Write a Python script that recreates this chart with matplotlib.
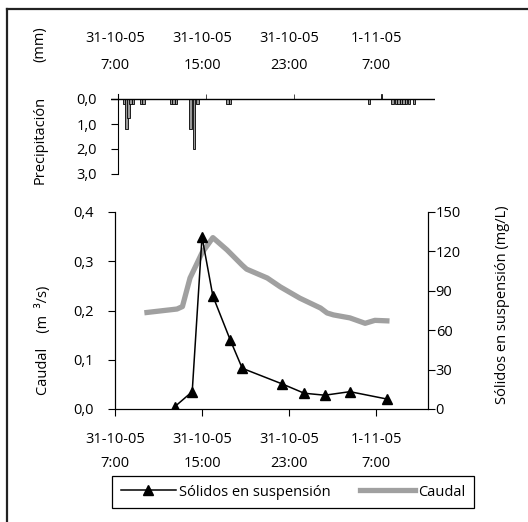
import matplotlib
matplotlib.use("Agg")
import matplotlib.pyplot as plt
from matplotlib.lines import Line2D

plt.rcParams["font.family"] = ["Open Sans", "DejaVu Sans"]
plt.rcParams["font.size"] = 10.5

W, H = 528, 522

# time axis: hours since 31-10-05 00:00
tick_hours = [7, 15, 23, 31]
tick_labels = ["31-10-05\n7:00", "31-10-05\n15:00", "31-10-05\n23:00", "1-11-05\n7:00"]

# precipitation (mm), drawn hanging down from 0
rain_hours = [7.83, 8.06, 8.24, 8.43, 8.66, 9.39, 9.62, 12.15, 12.38, 12.61,
              13.94, 14.26, 14.59, 17.34, 17.57, 30.36,
              32.52, 32.84, 33.07, 33.30, 33.52, 33.75, 34.03, 34.49]
rain_mm = [0.2, 1.2, 0.75, 0.2, 0.2, 0.2, 0.2, 0.2, 0.2, 0.2,
           1.2, 2.0, 0.2, 0.2, 0.2, 0.2,
           0.2, 0.2, 0.2, 0.2, 0.2, 0.2, 0.2, 0.2]
trace_hours = [15.37, 23.46, 31.52]
trace_mm = [-0.2, -0.2, -0.2]

# discharge (m3/s)
q_hours = [9.94, 12.7, 13.2, 13.9, 15.0, 16.0, 17.3, 18.7, 19.1, 21.0, 22.2,
           24.0, 25.9, 26.5, 27.1, 28.6, 30.0, 30.9, 32.0]
q_vals = [0.196, 0.203, 0.208, 0.266, 0.317, 0.348, 0.323, 0.292, 0.284, 0.266,
          0.248, 0.225, 0.205, 0.195, 0.191, 0.185, 0.174, 0.180, 0.179]

# suspended solids (mg/L)
ss_hours = [12.5, 14.1, 15.0, 16.0, 17.6, 18.7, 22.4, 24.4, 26.3, 28.6, 32.0]
ss_vals = [1.8, 13.2, 131, 86, 52.5, 31, 19, 12, 10.5, 13.2, 7.6]


def fx(px):
    return px / W


def fy(py):
    return 1 - py / H


fig = plt.figure(figsize=(W / 100, H / 100), dpi=100)

# outer frame (only top and left edges visible)
fig.add_artist(Line2D([fx(7), 1], [fy(9), fy(9)], color="#222222", lw=1.6))
fig.add_artist(Line2D([fx(7), fx(7)], [fy(9), 0], color="#222222", lw=1.6))

# ---- precipitation panel ----
px_per_h = 10.875
ax_p = fig.add_axes([fx(111), fy(174), (435 - 111) / W, (174 - 94) / H])
ax_p.set_xlim(7 - 4 / px_per_h, 7 + (435 - 115) / px_per_h)
ax_p.set_ylim(3.0, -0.2)
ax_p.bar(rain_hours, rain_mm, width=0.24, color="#9a9a9a", edgecolor="black", linewidth=0.6)
ax_p.bar(trace_hours, trace_mm, width=0.08, color="black", edgecolor="black", linewidth=0.5)
ax_p.axhline(0, color="black", lw=1.0)
for s in ["top", "right", "bottom"]:
    ax_p.spines[s].set_visible(False)
ax_p.spines["left"].set_position(("data", 7 + 3 / px_per_h))
ax_p.set_yticks([0, 1, 2, 3])
ax_p.set_yticklabels(["0,0", "1,0", "2,0", "3,0"])
ax_p.tick_params(axis="y", direction="out", length=5, pad=10)
ax_p.xaxis.tick_top()
ax_p.set_xticks(tick_hours)
ax_p.set_xticklabels(tick_labels, linespacing=2.1)
ax_p.tick_params(axis="x", length=0, pad=15)

# ---- discharge / solids panel ----
ax = fig.add_axes([fx(115), fy(409), (428 - 115) / W, (409 - 212) / H])
ax.set_xlim(7, 7 + (428 - 115) / px_per_h)
ax.set_ylim(0, 0.4)
ax.plot(q_hours, q_vals, color="#a0a0a0", lw=3.8, solid_joinstyle="round", zorder=2)
ax.set_yticks([0, 0.1, 0.2, 0.3, 0.4])
ax.set_yticklabels(["0,0", "0,1", "0,2", "0,3", "0,4"])
ax.set_xticks(tick_hours)
ax.set_xticklabels(tick_labels, linespacing=1.85)
ax.tick_params(axis="x", direction="out", length=5, pad=11.5)
ax.tick_params(axis="y", direction="out", length=5, pad=10)
ax.spines["top"].set_visible(False)

ax2 = ax.twinx()
ax2.set_ylim(0, 150)
ax2.plot(ss_hours, ss_vals, color="black", lw=1.1, marker="^", markersize=7, zorder=3)
ax2.set_yticks([0, 30, 60, 90, 120, 150])
ax2.tick_params(axis="y", direction="out", length=5, pad=0.5)
ax2.spines["top"].set_visible(False)

# axis titles
fig.text(fx(40), fy(44), "(mm)", rotation=90, ha="center", va="center")
fig.text(fx(40), fy(140), "Precipitación", rotation=90, ha="center", va="center")
fig.text(fx(43), fy(340), "Caudal    (m  ³/s)", rotation=90, ha="center", va="center")
fig.text(fx(502), fy(305), "Sólidos en suspensión (mg/L)", rotation=90, ha="center", va="center")

# legend
h1 = Line2D([], [], color="black", lw=1.1, marker="^", markersize=7)
h2 = Line2D([], [], color="#a0a0a0", lw=3.8)
leg = fig.legend([h1, h2], ["Sólidos en suspensión", "Caudal"], ncol=2,
                 loc="center", bbox_to_anchor=(fx(293), fy(492)),
                 frameon=True, fancybox=False, edgecolor="black", framealpha=1,
                 handlelength=3.8, handletextpad=0.2, columnspacing=2.0,
                 borderpad=0.6, numpoints=1)
leg.get_frame().set_linewidth(0.9)

plt.savefig("out.png", dpi=100)
